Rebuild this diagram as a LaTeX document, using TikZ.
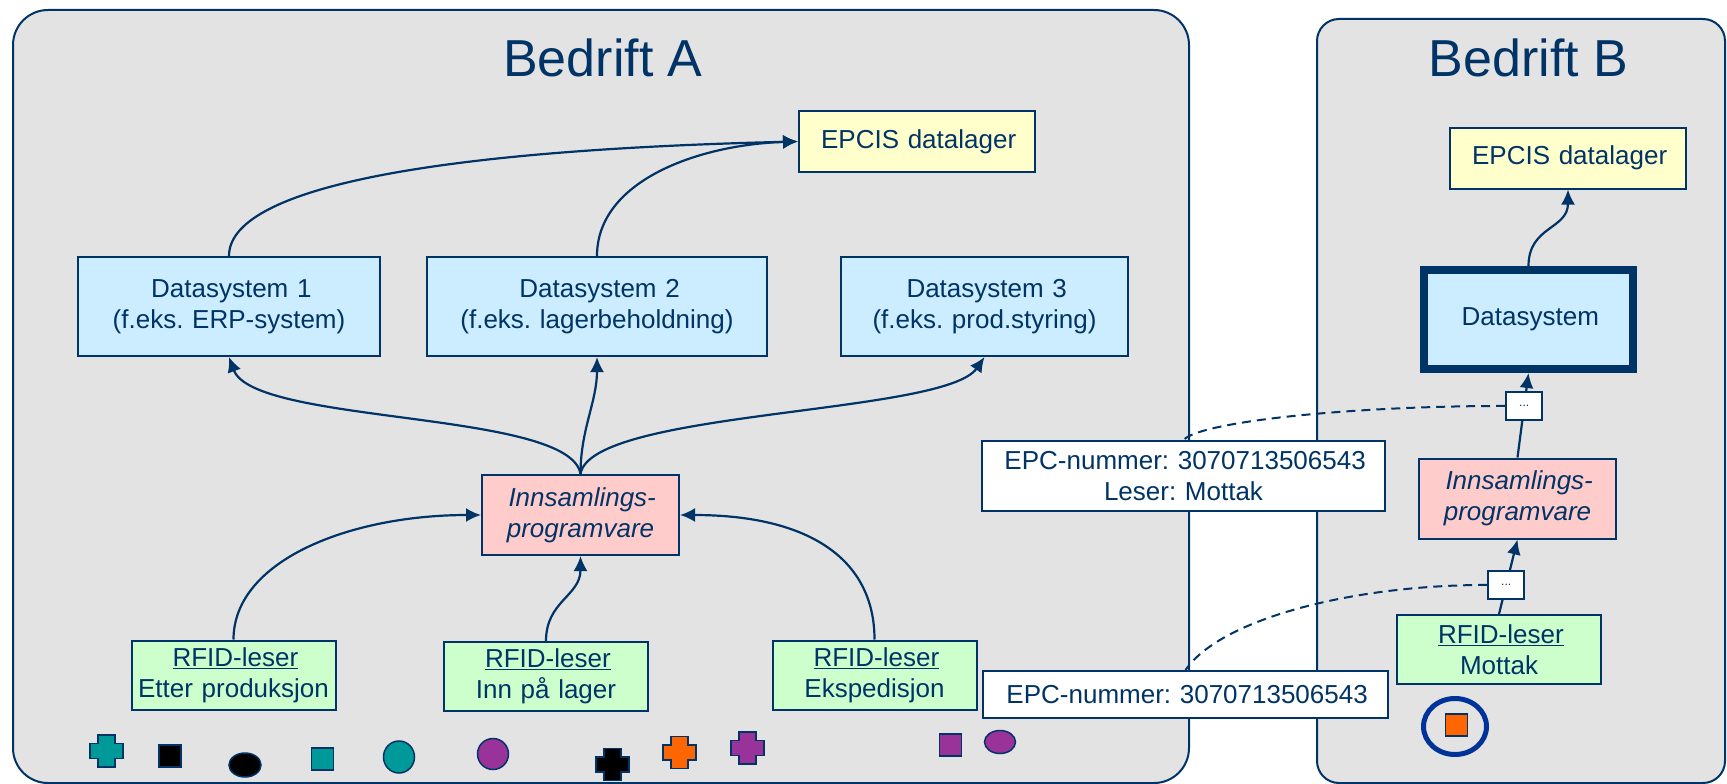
\documentclass[tikz,border=0pt]{standalone}
\usepackage{fontspec}
\setmainfont{Liberation Sans}
\usepackage{tikz}
\usetikzlibrary{arrows.meta}
\frenchspacing
\definecolor{navy_blue}		{RGB}{0,51,102}
\definecolor{panel_grey}	{RGB}{227,227,227}
\definecolor{light_blue}	{RGB}{204,236,255}
\definecolor{light_yellow}	{RGB}{255,255,204}
\definecolor{light_red}		{RGB}{255,204,204}
\definecolor{light_green}	{RGB}{204,255,204}
\definecolor{tag_teal}		{RGB}{0,153,153}
\definecolor{tag_purple}	{RGB}{153,51,153}
\definecolor{tag_orange}	{RGB}{255,102,0}
\definecolor{ring_blue}		{RGB}{0,51,153}
\newcommand{\boxfont}	{ \fontsize{26}{31}\selectfont }
\newcommand{\headfont}	{ \fontsize{52}{60}\selectfont }
\newcommand{\tagcross}[3]{ \filldraw[tagline, fill=#3] (#1,#2) ++(-8.5,-16) -- ++(17,0) -- ++(0,8.5) -- ++(8,0) -- ++(0,15) -- ++(-8,0) -- ++(0,8.5) -- ++(-17,0) -- ++(0,-8.5) -- ++(-8,0) -- ++(0,-15) -- ++(8,0) -- cycle; }
\newcommand{\tagbox}[3]{ \filldraw[tagline, fill=#3] (#1,#2) ++(-11,-11) rectangle ++(22,22); }
\newcommand{\tagoval}[5]{ \filldraw[tagline, fill=#5] (#1,#2) ellipse [x radius=#3pt, y radius=#4pt]; }

\begin{document}
\begin{tikzpicture}[
		x = 1pt, y = -1pt,
		panel/.style    = {draw = navy_blue,
			fill           = panel_grey,
			line width     = 2pt},
		headline/.style = {inner sep = 0pt,
			font = \headfont \color{navy_blue}},
		blockB/.style   = {draw = navy_blue,
			rectangle,
			text centered,
			fill           = light_blue,
			inner sep      = 0pt,
			font = \boxfont \color{navy_blue},
			line width     = 2pt,
			minimum height = 99pt},
		blockY/.style   = {draw = navy_blue,
			rectangle,
			text centered,
			fill           = light_yellow,
			inner sep      = 0pt,
			text width     = 236pt,
			font = \boxfont \color{navy_blue},
			line width     = 2pt,
			minimum height = 61pt},
		blockR/.style   = {draw = navy_blue,
			rectangle,
			text centered,
			fill           = light_red,
			inner sep      = 0pt,
			text width     = 197pt,
			font = \boxfont \itshape \color{navy_blue},
			line width     = 2pt,
			minimum height = 80pt},
		blockG/.style   = {draw = navy_blue,
			rectangle,
			text centered,
			fill           = light_green,
			inner sep      = 0pt,
			text width     = 204pt,
			font = \boxfont \color{navy_blue},
			line width     = 2pt,
			minimum height = 69pt},
		blockW/.style   = {draw = navy_blue,
			rectangle,
			text centered,
			fill           = white,
			inner sep      = 0pt,
			font = \boxfont \color{navy_blue},
			line width     = 2pt},
		dotbox/.style   = {draw = navy_blue,
			fill           = white,
			inner sep      = 0pt,
			minimum width  = 36pt,
			minimum height = 28pt,
			font = \fontsize{12}{14}\selectfont \color{navy_blue},
			line width     = 2pt},
		flow/.style     = {draw = navy_blue,
			line width     = 2.2pt,
			-{Latex[length=15pt,width=14pt]}},
		dashB/.style    = {draw = navy_blue,
			line width     = 2pt,
			dash pattern   = on 9pt off 6pt},
		tagline/.style  = {draw = navy_blue,
			line width     = 1.5pt}]
		
		\useasboundingbox (0,0) rectangle (1727,784);
		
		% the two companies
		\draw[panel, rounded corners=35pt] (13,10) rectangle (1189,783);
		\draw[panel, rounded corners=22pt] (1317,19) rectangle (1725,783);
		
		\node[headline, anchor=base] (titleA) at (601.5,77) {Bedrift A};
		\node[headline, anchor=base] (titleB) at (1527,77) {Bedrift B};
		
		% Bedrift A
		\node[blockY] (epcisA) at (917,141.5) {EPCIS datalager};
		
		\node[blockB, text width=302pt] (ds1) at (229,306.5)
		{ Datasystem 1 \\ (f.eks. ERP-system) };
		\node[blockB, text width=340pt] (ds2) at (597,306.5)
		{ Datasystem 2 \\ (f.eks. lagerbeholdning) };
		\node[blockB, text width=287pt] (ds3) at (984.5,306.5)
		{ Datasystem 3 \\ (f.eks. prod.styring) };
		
		\node[blockR] (innA) at (580.5,515) { Innsamlings- \\ programvare };
		
		\node[blockG] (rfid1) at (233.5,675) { \underline{RFID-leser} \\ Etter produksjon };
		\node[blockG] (rfid2) at (546,676.5) { \underline{RFID-leser} \\ Inn på lager };
		\node[blockG] (rfid3) at (874.5,675) { \underline{RFID-leser} \\ Ekspedisjon };
		
		\tagcross{106.5}{751}{tag_teal}
		\tagbox{170}{756}{black}
		\tagoval{245}{765}{16}{12}{black}
		\tagbox{322.5}{759}{tag_teal}
		\tagoval{399}{757}{15.5}{16}{tag_teal}
		\tagoval{493}{754}{15.5}{15.5}{tag_purple}
		\tagcross{612.5}{764.5}{black}
		\tagcross{679.5}{752.5}{tag_orange}
		\tagcross{747.5}{748}{tag_purple}
		\tagbox{950.5}{745}{tag_purple}
		\tagoval{1000}{742}{15.5}{11.5}{tag_purple}
		
		\draw[flow] (ds1.north) .. controls +(0,-66) and +(-378,9) .. (epcisA.west);
		\draw[flow] (ds2.north) .. controls +(0,-76) and +(-98,3) .. (epcisA.west);
		
		\draw[flow] (innA.north) .. controls +(-10,-64) and +(25,68) .. (ds1.south);
		\draw[flow] (innA.north) .. controls +(0,-45) and +(0,45) .. (ds2.south);
		\draw[flow] (innA.north) .. controls +(10,-64) and +(-40,58) .. (ds3.south);
		
		\draw[flow] (rfid1.north) .. controls +(0,-79) and +(-131,0) .. (innA.west);
		\draw[flow] (rfid2.north) .. controls +(0,-40) and +(0,40) .. (innA.south);
		\draw[flow] (rfid3.north) .. controls +(0,-79) and +(131,0) .. (innA.east);
		
		% Bedrift B
		\node[blockY] (epcisB) at (1568,158) {EPCIS datalager};
		\node[blockB, text width=208.7pt, minimum height=98.7pt, line width=8.3pt] (dsB) at (1528.5,319.5) {Datasystem};
		\node[blockR] (innB) at (1517.5,498.5) { Innsamlings- \\ programvare };
		\node[blockG] (rfidB) at (1499,649.5) { \underline{RFID-leser} \\ Mottak };
		
		\draw[line width=5pt, draw=ring_blue] (1455,726.5) ellipse [x radius=31.5pt, y radius=28pt];
		\tagbox{1456.5}{725}{tag_orange}
		
		\draw[flow] (dsB.north) .. controls +(0,-40) and +(0,40) .. (epcisB.south);
		\draw[flow] (innB.north) -- node[dotbox, pos=0.61] (dotsB1) {...} (dsB.south);
		\draw[flow] (rfidB.north) -- node[dotbox, pos=0.39] (dotsB2) {...} (innB.south);
		
		% what the readers send
		\node[blockW, text width=403pt, minimum height=70pt] (epc1) at (1183.5,476)
		{ EPC-nummer: 3070713506543 \\ Leser: Mottak };
		\node[blockW, text width=405pt, minimum height=47pt] (epc2) at (1185.5,694.5)
		{ EPC-nummer: 3070713506543 };
		
		\draw[dashB] (dotsB1.west) .. controls +(-158,0) and +(16,-18) .. (epc1.north);
		\draw[dashB] (dotsB2.west) .. controls +(-138,0) and +(34,-50) .. (epc2.north);
		
	\end{tikzpicture}
\end{document}
